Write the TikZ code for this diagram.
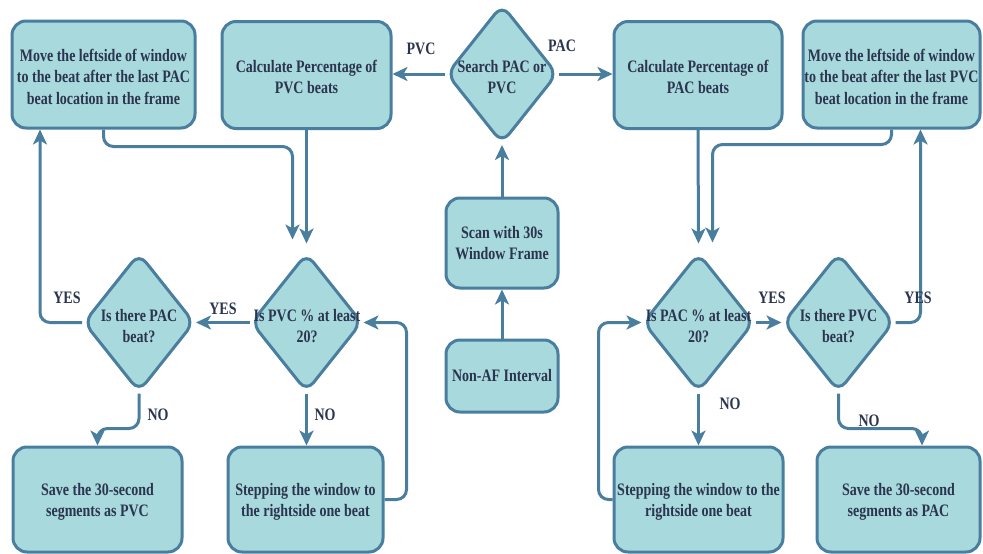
\documentclass[tikz,border=0pt]{standalone}
\usepackage{fontspec}
\setmainfont{Liberation Serif}[FakeStretch=0.8]
\usetikzlibrary{shapes.geometric,arrows.meta,calc}
\definecolor{fillc}{HTML}{A8D9DC}
\definecolor{edgec}{HTML}{4A7E9F}
\definecolor{txtc}{HTML}{2B3550}
\newcommand\dfnt{\fontsize{17.5}{21.5}\selectfont\bfseries}
\newcommand\topstr{\rule{0pt}{16.5pt}}
\begin{document}
\begin{tikzpicture}[x=1pt,y=-1pt,
 box/.style={draw=edgec, fill=fillc, line width=3pt, rounded corners=14pt, inner sep=0pt, align=center, text=txtc, font=\dfnt},
 dia/.style={diamond, draw=edgec, fill=fillc, line width=3pt, rounded corners=11pt, inner sep=0pt, minimum width=111pt, minimum height=139pt},
 dtxt/.style={text=txtc, font=\dfnt, align=center, inner sep=0pt},
 conn/.style={draw=edgec, line width=3pt, rounded corners=10pt, -{Stealth[length=15pt,width=14pt,inset=4pt]}},
 lbl/.style={text=txtc, font=\dfnt, inner sep=0pt}]
\useasboundingbox (0,0) rectangle (983,554);

% top row
\node[box, minimum width=183pt, minimum height=107pt] (mvL) at (103.5,74.5) {\topstr Move the leftside of window\\to the beat after the last PAC\\beat location in the frame};
\node[box, minimum width=169pt, minimum height=107pt] (calcPVC) at (306.5,75) {\topstr Calculate Percentage of\\PVC beats};
\node[dia] (search) at (502,74) {};
\node[dtxt] (searcht) at (502,77) {Search PAC or\\PVC};
\node[box, minimum width=168pt, minimum height=107pt] (calcPAC) at (698,75) {\topstr Calculate Percentage of\\PAC beats};
\node[box, minimum width=177pt, minimum height=107pt] (mvR) at (891.5,74.5) {\topstr Move the leftside of window\\to the beat after the last PVC\\beat location in the frame};

% middle column
\node[box, minimum width=112pt, minimum height=90pt] (scan) at (502,243) {Scan with 30s\\Window Frame};
\node[box, minimum width=112pt, minimum height=72pt] (nonaf) at (502,376) {Non-AF Interval};

% decision row
\node[dia] (pacQ) at (139,322.5) {};
\node[dtxt] (pacQt) at (139,326) {Is there PAC\\beat?};
\node[dia] (pvcQ) at (306.5,322.5) {};
\node[dtxt] (pvcQt) at (307,326) {Is PVC \% at least\\20?};
\node[dia] (pacPct) at (698.5,322.5) {};
\node[dtxt] (pacPctt) at (698.5,326) {Is PAC \% at least\\20?};
\node[dia] (pvcQR) at (838.5,322.5) {};
\node[dtxt] (pvcQRt) at (838.5,326) {Is there PVC\\beat?};

% bottom row
\node[box, minimum width=169pt, minimum height=105pt] (savePVC) at (97.5,499.5) {\topstr Save the 30-second\\segments as PVC};
\node[box, minimum width=155pt, minimum height=105pt] (stepL) at (305.5,499.5) {\topstr Stepping the window to\\the rightside one beat};
\node[box, minimum width=169pt, minimum height=105pt] (stepR) at (698.5,499.5) {\topstr Stepping the window to the\\rightside one beat};
\node[box, minimum width=163pt, minimum height=105pt] (savePAC) at (898.5,499.5) {\topstr Save the 30-second\\segments as PAC};

% connectors
\draw[conn] (search.west) -- (search.west -| calcPVC.east);
\draw[conn] (search.east) -- (search.east -| calcPAC.west);
\draw[conn] (nonaf.north) -- (scan.south);
\draw[conn] (scan.north) -- (search.south);

\draw[conn] (calcPVC.south) -- ($(pvcQ.north)+(0,-8)$);
\draw[conn] (mvL.south) |- ($(pvcQ.north)+(-14,-105)$) -- ($(pvcQ.north)+(-14,-12)$);
\draw[conn] (pvcQ.west) -- (pacQ.east);
\draw[conn] (pacQ.west) -| ([xshift=-63.5pt]mvL.south);
\draw[conn] (pacQ.south) |- ($(savePVC.north)+(0,-17)$) -- (savePVC.north);
\draw[conn] (pvcQ.south) -- (pvcQ.south |- stepL.north);
\draw[conn] (stepL.east) -- ++(22,0) |- (pvcQ.east);

\draw[conn] (calcPAC.south) -- ($(pacPct.north)+(0,-8)$);
\draw[conn] (mvR.south) |- ($(pacPct.north)+(14,-107)$) -- ($(pacPct.north)+(14,-9)$);
\draw[conn] (pacPct.east) -- (pvcQR.west);
\draw[conn] (pvcQR.east) -| ([xshift=29pt]mvR.south);
\draw[conn] (pvcQR.south) |- ($([xshift=23.5pt]savePAC.north)+(0,-17)$) -- ([xshift=23.5pt]savePAC.north);
\draw[conn] (pacPct.south) -- (pacPct.south |- stepR.north);
\draw[conn] (stepR.west) -- ++(-14,0) |- (pacPct.west);

% labels
\node[lbl] (lPVC) at (421,49) {PVC};
\node[lbl] (lPAC) at (562,46) {PAC};
\node[lbl] (lYes1) at (67,298) {YES};
\node[lbl] (lYes2) at (223,309) {YES};
\node[lbl] (lNo1) at (158,415) {NO};
\node[lbl] (lNo2) at (325,415) {NO};
\node[lbl] (lYes3) at (772,298) {YES};
\node[lbl] (lYes4) at (918,298) {YES};
\node[lbl] (lNo3) at (730,404) {NO};
\node[lbl] (lNo4) at (869,421) {NO};
\end{tikzpicture}
\end{document}
